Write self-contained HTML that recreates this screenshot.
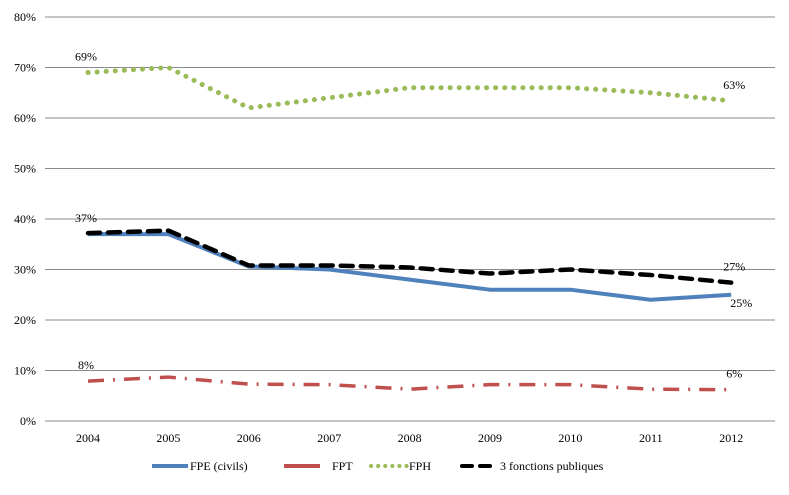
<!DOCTYPE html>
<html><head><meta charset="utf-8"><style>
body{margin:0;background:#fff;}
svg text{font-family:"Liberation Serif",serif;font-size:12px;fill:#000;}
</style></head><body>
<svg id="chart" width="789" height="490" xmlns="http://www.w3.org/2000/svg">
<g id="grid"></g><g id="series"></g><g id="labels"></g><g id="legend"></g>
</svg>
<script>
const years=["2004","2005","2006","2007","2008","2009","2010","2011","2012"];
const fpe=[37,37,30.6,30,28,26,26,24,25];
const fpt=[7.9,8.7,7.3,7.2,6.3,7.2,7.2,6.3,6.2];
const fph=[69,70,62,64,66,66,66,65,63.4];
const trois=[37.2,37.7,30.8,30.8,30.4,29.2,30,28.9,27.4];
const yTicks=[0,10,20,30,40,50,60,70,80];
const ns="http://www.w3.org/2000/svg";
const X=i=>88+i*80.4;
const Y=v=>421-v*5.05;
function mk(t,a,p){const e=document.createElementNS(ns,t);for(const k in a)e.setAttribute(k,a[k]);p.appendChild(e);return e;}
const grid=document.getElementById('grid');
yTicks.forEach(v=>{
 const l=mk('line',{x1:45,x2:775,y1:Y(v),y2:Y(v),stroke:'#8a8a8a','stroke-width':1},grid);
 
 
 const t=mk('text',{x:36,y:Y(v)+4,'text-anchor':'end'},grid);t.textContent=v+'%';
 
 
});
years.forEach((y,i)=>{
 const t=mk('text',{x:X(i),y:442,'text-anchor':'middle'},grid);t.textContent=y;
 
 
});
const ser=document.getElementById('series');
const defs=[
 {d:fph,c:'#9bbb59',w:5,da:'0.1 9',cap:'round',n:'fph-line'},
 {d:fpt,c:'#c0504d',w:3.5,da:'16 9 2 9',cap:'butt',n:'fpt-line'},
 {d:fpe,c:'#4f81bd',w:4,da:'',cap:'butt',n:'fpe-line'},
 {d:trois,c:'#000',w:4.5,da:'12 8',cap:'round',n:'trois-fp-line'}];
defs.forEach(s=>{
 const p=mk('polyline',{points:s.d.map((v,i)=>X(i)+','+Y(v)).join(' '),fill:'none',stroke:s.c,'stroke-width':s.w,'stroke-dasharray':s.da,'stroke-linecap':s.cap,'stroke-linejoin':'round'},ser);
 
 
});
const lab=document.getElementById('labels');
[[fph,0,'s'],[fph,8,'e'],[fpe,0,'s'],[fpe,8,'b'],[trois,8,'e'],[fpt,0,'s'],[fpt,8,'e']].forEach(([d,i,m])=>{
 let yy=m==='b'?Y(d[i])+12:Y(d[i])-12;
 const t=mk('text',{x:X(i)+(m==='s'?-2:(m==='b'?10:3)),y:yy,'text-anchor':'middle'},lab);
 t.textContent=Math.round(d[i])+'%';
 
 
});
const lg=document.getElementById('legend');
const items=[['FPE (civils)','#4f81bd','',150,'butt'],['FPT','#c0504d','',282,'butt'],['FPH','#9bbb59','0.1 7',369,'round'],['3 fonctions publiques','#000','10 8',460,'round']];
items.forEach(([n,c,da,x,cap])=>{
 const g=mk('g',{},lg);
 
 
 mk('line',{x1:x+2,x2:x+38,y1:466,y2:466,stroke:c,'stroke-width':4,'stroke-dasharray':da,'stroke-linecap':cap},g);
 const t=mk('text',{x:x+(n==='FPT'?50:40),y:470},g);t.textContent=n;
});
</script>
</body></html>
